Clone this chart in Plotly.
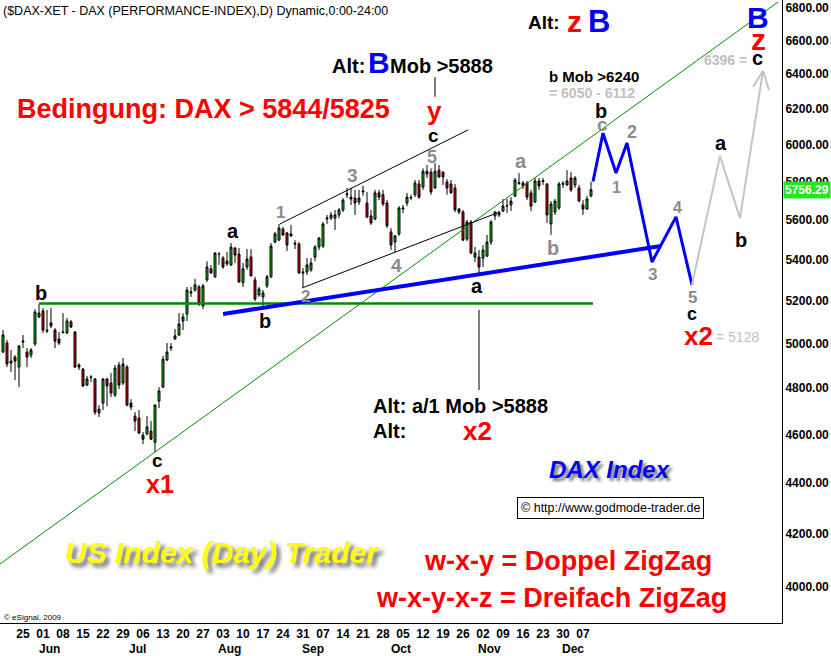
import numpy as np
import pandas as pd
import plotly.graph_objects as go

# ---------------- data ----------------
dates = pd.bdate_range("2009-05-18", periods=148)

open_ = [4961,5002,4911,4938,4893,5007,4961,4947,4998,5123,
         5151,5062,5095,5062,5021,5053,5048,5100,5053,4902,
         4884,4813,4849,4840,4691,4734,4840,4822,4769,4902,
         4822,4893,4734,4678,4670,4597,4602,4614,4567,4743,
         4804,4925,4979,5021,5039,5104,5137,5237,5251,5266,
         5175,5300,5354,5315,5427,5407,5378,5373,5457,5427,
         5286,5363,5412,5300,5227,5218,5271,5315,5487,5497,
         5553,5533,5528,5482,5477,5339,5339,5349,5412,5462,
         5467,5604,5609,5609,5625,5651,5730,5718,5713,5692,
         5745,5687,5620,5604,5740,5730,5687,5538,5487,5528,
         5656,5687,5713,5730,5787,5771,5855,5850,5766,5861,
         5850,5798,5787,5766,5656,5640,5502,5589,5412,5412,
         5407,5417,5487,5620,5625,5645,5671,5677,5724,5790,
         5792,5792,5740,5692,5803,5800,5787,5579,5640,5661,
         5785,5782,5819,5782,5766,5677,5656,5724]

high_ = [5062,5016,4970,4947,4993,5039,4979,4979,5160,5184,
         5165,5156,5165,5071,5053,5141,5118,5109,5058,4911,
         4889,4853,4857,4844,4725,4844,4844,4866,4902,4916,
         4934,4902,4751,4695,4704,4610,4678,4657,4730,4804,
         4943,5002,5002,5067,5141,5141,5266,5266,5305,5276,
         5280,5392,5373,5437,5437,5417,5437,5482,5462,5457,
         5383,5452,5452,5315,5266,5251,5324,5482,5538,5579,
         5563,5538,5574,5497,5487,5358,5407,5407,5472,5513,
         5589,5625,5640,5651,5661,5713,5766,5766,5756,5756,
         5777,5745,5651,5756,5756,5756,5702,5558,5523,5671,
         5677,5740,5730,5808,5808,5871,5889,5871,5900,5889,
         5855,5813,5808,5787,5661,5651,5599,5599,5462,5447,
         5472,5523,5599,5645,5645,5708,5708,5718,5819,5845,
         5803,5803,5756,5819,5819,5819,5792,5697,5708,5798,
         5803,5861,5850,5829,5782,5702,5724,5798]

low_ = [4957,4893,4871,4835,4804,4979,4893,4934,4988,5118,
        5048,5048,5071,4979,4993,5048,5044,5071,4889,4880,
        4804,4809,4826,4683,4674,4704,4721,4760,4760,4795,
        4813,4721,4704,4614,4602,4559,4597,4576,4527,4712,
        4800,4920,4966,5016,5035,5062,5104,5218,5242,5175,
        5160,5290,5329,5310,5373,5354,5368,5368,5383,5286,
        5266,5349,5315,5198,5218,5165,5261,5310,5482,5492,
        5518,5442,5513,5452,5329,5266,5324,5339,5392,5447,
        5457,5579,5599,5548,5609,5640,5713,5677,5625,5677,
        5725,5609,5574,5599,5702,5671,5558,5447,5437,5518,
        5635,5671,5702,5718,5708,5756,5819,5730,5761,5819,
        5782,5730,5735,5640,5630,5492,5492,5427,5388,5324,
        5363,5412,5472,5599,5614,5640,5635,5645,5718,5782,
        5761,5702,5645,5687,5756,5782,5584,5523,5625,5651,
        5766,5777,5745,5766,5692,5625,5651,5718]

close_ = [5039,4907,4920,4920,4988,5011,4938,4970,5146,5141,
          5062,5058,5081,5011,5002,5050,5104,5076,4893,4893,
          4809,4840,4847,4695,4708,4840,4809,4778,4889,4813,
          4907,4725,4717,4657,4606,4580,4632,4580,4725,4787,
          4929,4961,4984,5035,5090,5123,5251,5242,5276,5184,
          5271,5363,5334,5432,5425,5363,5392,5462,5422,5290,
          5354,5402,5320,5208,5256,5237,5315,5467,5528,5558,
          5523,5472,5518,5477,5334,5334,5373,5383,5462,5507,
          5579,5609,5625,5625,5651,5702,5735,5708,5687,5713,
          5750,5614,5584,5740,5718,5682,5569,5472,5518,5661,
          5661,5718,5716,5792,5718,5855,5840,5745,5855,5824,
          5824,5766,5740,5651,5640,5497,5589,5432,5432,5363,
          5447,5487,5589,5640,5640,5671,5674,5697,5808,5795,
          5777,5718,5671,5803,5777,5805,5625,5682,5697,5787,
          5790,5803,5756,5819,5697,5656,5708,5756.29]

last_price = 5756.29
y_ticks = [4000, 4200, 4400, 4600, 4800, 5000, 5200, 5400, 5600,
           5800, 6000, 6200, 6400, 6600, 6800]

# trend / channel lines: (trading-day position, price)
green_trend_x, green_trend_y = [-0.75, 193.75], [4085, 6837]
support_x, support_y = [9, 147.5], [5187, 5187]
blue_trend_x, blue_trend_y = [55, 164.5], [5137, 5467]
chan_up_x, chan_up_y = [69.25, 116.25], [5579, 6081]
chan_lo_x, chan_lo_y = [74.75, 123.5], [5261, 5635]
# projections
blue_proj_x = [147.5, 150, 153.25, 156, 162.25, 168.25, 172.25]
blue_proj_y = [5800, 6063, 5846, 6008, 5388, 5615, 5276]
gray_proj_x = [172.25, 179.25, 184.25, 190]
gray_proj_y = [5276, 5937, 5609, 6420]
arrow_x, arrow_y = [187.5, 190, 191.5], [6325, 6420, 6308]
mark1_x, mark1_y = [119, 119], [5156, 4791]
mark2_x, mark2_y = [108, 108], [6383, 6268]

# ---------------- figure ----------------
FONT = "Liberation Sans, Arial, sans-serif"
W, H = 831, 656
ML, MR, MT, MB = 0, 49, 0, 33
PW, PH = W - ML - MR, H - MT - MB


def px(x):
    return (x - ML) / PW


def py(y):
    return 1 - (y - MT) / PH


xi = list(range(len(dates)))

fig = go.Figure()

fig.add_trace(go.Scatter(x=green_trend_x, y=green_trend_y, mode="lines",
                         line=dict(color="#009000", width=1), hoverinfo="skip"))
fig.add_trace(go.Scatter(x=support_x, y=support_y, mode="lines",
                         line=dict(color="#008800", width=2.5), hoverinfo="skip"))

fig.add_trace(go.Candlestick(
    x=xi, open=open_, high=high_, low=low_, close=close_,
    increasing=dict(fillcolor="#00CC00", line=dict(color="black", width=1)),
    decreasing=dict(fillcolor="#DD0000", line=dict(color="black", width=1)),
    whiskerwidth=0, hoverinfo="skip"))

for xs, ys in [(chan_up_x, chan_up_y), (chan_lo_x, chan_lo_y),
               (mark1_x, mark1_y), (mark2_x, mark2_y)]:
    fig.add_trace(go.Scatter(x=xs, y=ys, mode="lines",
                             line=dict(color="black", width=1), hoverinfo="skip"))

fig.add_trace(go.Scatter(x=blue_trend_x, y=blue_trend_y, mode="lines",
                         line=dict(color="#0000FF", width=4), hoverinfo="skip"))
fig.add_trace(go.Scatter(x=blue_proj_x, y=blue_proj_y, mode="lines",
                         line=dict(color="#0000FF", width=3), hoverinfo="skip"))
fig.add_trace(go.Scatter(x=gray_proj_x, y=gray_proj_y, mode="lines",
                         line=dict(color="#C4C4C4", width=2), hoverinfo="skip"))
fig.add_trace(go.Scatter(x=arrow_x, y=arrow_y, mode="lines",
                         line=dict(color="#C4C4C4", width=2), hoverinfo="skip"))

# x ticks: Mondays; month labels at first trading day of each full month
mon_pos = [i for i, d in enumerate(dates) if d.weekday() == 0]
mon_txt = [dates[i].strftime("%d") for i in mon_pos]
month_first = {}
for i, d in enumerate(dates):
    month_first.setdefault((d.year, d.month), i)

fig.update_layout(
    width=W, height=H, margin=dict(l=ML, r=MR, t=MT, b=MB, autoexpand=False),
    paper_bgcolor="white", plot_bgcolor="white", showlegend=False,
    xaxis=dict(range=[-0.75, 194.75], rangeslider=dict(visible=False),
               automargin=False,
               showgrid=False, zeroline=False, showline=True, linecolor="black",
               linewidth=1, ticks="", tickvals=mon_pos, ticktext=mon_txt,
               tickangle=0,
               tickfont=dict(family=FONT, size=12, color="black", weight="bold")),
    yaxis=dict(type="log", range=[np.log10(3870), np.log10(6850)], side="right",
               automargin=False,
               showgrid=False, zeroline=False, showline=True, linecolor="black",
               linewidth=1, ticks="", tickvals=y_ticks,
               ticktext=[f"{v:.2f}" for v in y_ticks],
               tickfont=dict(family=FONT, size=12, color="black", weight="bold")),
)


def label(text, x, base, size, color="black", weight="bold", xanchor="center",
          style="normal", shadow=None, **kw):
    f = dict(family=FONT, size=size, color=color, weight=weight, style=style)
    if shadow:
        f["shadow"] = shadow
    fig.add_annotation(text=text, xref="paper", yref="paper", x=px(x),
                       y=py(base - 0.35 * size), xanchor=xanchor, yanchor="middle",
                       showarrow=False, font=f, **kw)


for (yr, mo), i in month_first.items():
    if i == 0:
        continue  # partial first month carries no label
    label(dates[i].strftime("%b"), 3 + 4 * i + 6, 653, 12)

GR = "#8C8C8C"
LG = "#C0C0C0"
RED = "#FF0000"
BLUE = "#0000FF"

label("($DAX-XET - DAX (PERFORMANCE-INDEX),D) Dynamic,0:00-24:00", 1, 15, 12.5,
      weight="normal", xanchor="left")
label("Bedingung: DAX &gt; 5844/5825", 15, 118, 27, RED, xanchor="left")
label("Alt:", 330, 73, 20, xanchor="left")
label("B", 366, 73, 30, BLUE, xanchor="left")
label("Mob &gt;5888", 388, 73, 20, xanchor="left")
label("Alt:", 526, 29, 19, xanchor="left")
label("z", 565, 32, 30, RED, xanchor="left")
label("B", 586, 32, 31, BLUE, xanchor="left")
label("B", 758, 28, 30, BLUE)
label("z", 758, 50, 30, RED)
label("6396 =", 749, 65, 14, LG, xanchor="right")
label("c", 757, 65, 20)
label("y", 434, 120, 26, RED)
label("c", 433, 142, 19)
label("5", 432, 163, 18, GR)
label("3", 352, 182, 19, GR)
label("1", 280, 218, 17, GR)
label("2", 305, 302, 17, GR)
label("4", 396, 272, 19, GR)
label("a", 521, 168, 20, GR)
label("b", 553, 255, 20, GR)
label("a", 233, 238, 20)
label("b", 41, 300, 20)
label("b", 265, 328, 20)
label("a", 477, 293, 20)
label("c", 157, 467, 19)
label("x1", 160, 493, 25, RED)
label("Alt: a/1 Mob &gt;5888", 371, 413, 20, xanchor="left")
label("Alt:", 371, 438, 20, xanchor="left")
label("x2", 477, 440, 26, RED)
label("b Mob &gt;6240", 547, 82, 15, xanchor="left")
label("= 6050 - 6112", 547, 98, 14, LG, xanchor="left")
label("b", 601, 118, 20)
label("c", 602, 131, 19, GR)
label("2", 632, 138, 18, GR)
label("1", 616, 193, 16, GR)
label("4", 677, 213, 16, GR)
label("3", 652, 280, 17, GR)
label("5", 692, 303, 17, GR)
label("c", 692, 320, 18)
label("x2", 698, 345, 26, RED)
label("= 5128", 714, 342, 14, LG, weight="normal", xanchor="left")
label("a", 721, 150, 20)
label("b", 741, 247, 20)
label("DAX Index", 610, 478, 24, BLUE, style="italic",
      shadow="3px 3px 3px #777777")
label("© http://www.godmode-trader.de", 610, 512, 12.5, weight="normal",
      bordercolor="black", borderwidth=1, borderpad=3, bgcolor="white")
label("US Index (Day) Trader", 222, 563, 30, "#FFFF00", style="italic",
      shadow="4px 4px 4px #666666")
label("w-x-y = Doppel ZigZag", 422, 570, 27, RED, xanchor="left")
label("w-x-y-x-z = Dreifach ZigZag", 374, 607, 27, RED, xanchor="left")
label("© eSignal, 2009", 2, 620, 8, weight="normal", xanchor="left")

# last price box on the axis
fig.add_annotation(text=f"{last_price:.2f}", xref="paper", yref="y",
                   x=px(783), y=np.log10(last_price), xanchor="left",
                   yanchor="middle", showarrow=False, bgcolor="#22E622",
                   borderpad=1,
                   font=dict(family=FONT, size=12, color="white", weight="bold"))

fig.write_html("out.html",
               config={"displayModeBar": False},
               post_script="document.body.style.margin='0';"
                           "document.body.style.overflow='hidden';")
